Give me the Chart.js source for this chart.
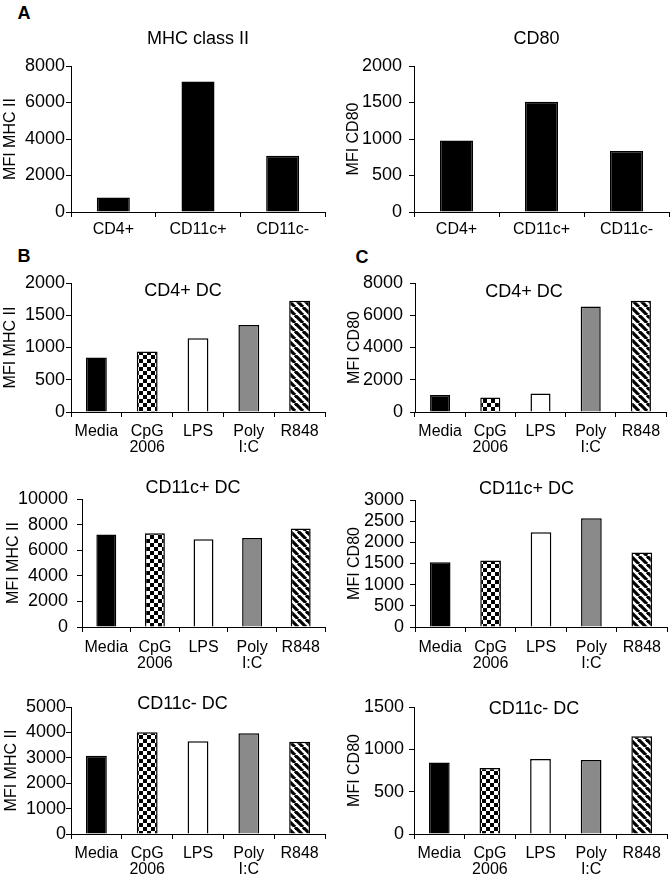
<!DOCTYPE html>
<html><head><meta charset="utf-8">
<script src="https://cdn.jsdelivr.net/npm/chart.js@4.4.1/dist/chart.umd.min.js"></script>
<style>
html,body{margin:0;padding:0;background:#fff;}
body{width:672px;height:883px;position:relative;overflow:hidden;font-family:"Liberation Sans",Arial,sans-serif;}
canvas{position:absolute;}
.letter{position:absolute;font-weight:bold;font-size:18px;line-height:1;transform:translate(-50%,-50%);}
</style></head><body>
<div class="letter" style="left:24px;top:13px">A</div>
<div class="letter" style="left:24px;top:256px">B</div>
<div class="letter" style="left:362px;top:257px">C</div>
<script>
// ---- data ----
const populations = ['CD4+', 'CD11c+', 'CD11c-'];
const stimuli = ['Media', ['CpG', '2006'], 'LPS', ['Poly', 'I:C'], 'R848'];

const mhcByPopulation = [800, 7150, 3080];
const cd80ByPopulation = [980, 1510, 836];

const mhcCD4DC = [845, 938, 1145, 1347, 1725];
const cd80CD4DC = [1050, 900, 1150, 6550, 6900];
const mhcCD11cPosDC = [7220, 7330, 6860, 6960, 7690];
const cd80CD11cPosDC = [1530, 1570, 2240, 2570, 1760];
const mhcCD11cNegDC = [3080, 4010, 3650, 3970, 3630];
const cd80CD11cNegDC = [845, 780, 885, 875, 1155];

const ticksMhcPop = [0, 2000, 4000, 6000, 8000];
const ticksCd80Pop = [0, 500, 1000, 1500, 2000];
const ticksMhcCD4 = [0, 500, 1000, 1500, 2000];
const ticksCd80CD4 = [0, 2000, 4000, 6000, 8000];
const ticksMhcCD11cPos = [0, 2000, 4000, 6000, 8000, 10000];
const ticksCd80CD11cPos = [0, 500, 1000, 1500, 2000, 2500, 3000];
const ticksMhcCD11cNeg = [0, 1000, 2000, 3000, 4000, 5000];
const ticksCd80CD11cNeg = [0, 500, 1000, 1500];

// ---- patterns ----
function checkerPattern() {
  const c = document.createElement('canvas'); c.width = 8; c.height = 8;
  const x = c.getContext('2d');
  x.fillStyle = '#fff'; x.fillRect(0, 0, 8, 8);
  x.fillStyle = '#000'; x.fillRect(0, 0, 4, 4); x.fillRect(4, 4, 4, 4);
  return x.createPattern(c, 'repeat');
}
function stripePattern() {
  const c = document.createElement('canvas'); c.width = 8; c.height = 8;
  const x = c.getContext('2d');
  x.fillStyle = '#fff'; x.fillRect(0, 0, 8, 8);
  x.strokeStyle = '#000'; x.lineWidth = 3.2;
  [-8, 0, 8].forEach(o => { x.beginPath(); x.moveTo(o, 0); x.lineTo(o + 8, 8); x.stroke(); });
  return x.createPattern(c, 'repeat');
}
const stimColors = ['#000000', checkerPattern(), '#ffffff', '#8a8a8a', stripePattern()];
const popColors = ['#000000', '#000000', '#000000'];

const FONT = '"Liberation Sans", Arial, sans-serif';

const titlePlugin = {
  id: 'panelTitle',
  afterDraw(chart, args, o) {
    const {ctx, chartArea: a} = chart;
    ctx.save();
    ctx.font = '18px ' + FONT;
    ctx.fillStyle = '#000';
    ctx.textAlign = 'center';
    ctx.textBaseline = 'middle';
    ctx.fillText(o.text, (a.left + a.right) / 2 + o.dx, a.top + o.dy);
    ctx.restore();
  }
};

const LY = 80, TY = 40, HX = 50, RP = 4;

function makeChart(rect, labels, values, colors, yTicks, yTitle, title, s) {
  const cv = document.createElement('canvas');
  const w = (rect.r - rect.l) + LY + RP;
  const h = TY + (rect.b - rect.t) + HX;
  cv.width = w; cv.height = h;
  cv.style.left = (rect.l - LY) + 'px';
  cv.style.top = (rect.t - TY) + 'px';
  cv.style.width = w + 'px'; cv.style.height = h + 'px';
  document.body.appendChild(cv);
  new Chart(cv, {
    type: 'bar',
    data: { labels: labels, datasets: [{
      data: values, backgroundColor: colors, borderColor: '#000', borderWidth: 1.5,
      barPercentage: s.bar, categoryPercentage: 1
    }]},
    plugins: [titlePlugin],
    options: {
      responsive: false, animation: false, devicePixelRatio: 1,
      layout: { padding: { left: 0, top: TY, right: RP, bottom: 0 } },
      plugins: { legend: { display: false }, tooltip: { enabled: false },
                 panelTitle: { text: title, dx: s.tdx, dy: s.tdy } },
      scales: {
        x: {
          type: 'category', offset: true,
          grid: { display: true, offset: true, drawOnChartArea: false, drawTicks: true, tickLength: 5, color: '#000', lineWidth: 1 },
          border: { display: true, color: '#000', width: 1 },
          ticks: { color: '#000', font: { family: FONT, size: 16, lineHeight: 1.04 }, padding: s.xpad, maxRotation: 0, autoSkip: false },
          afterFit(sc) { sc.height = HX; }
        },
        y: {
          min: yTicks[0], max: yTicks[yTicks.length - 1],
          grid: { display: true, drawOnChartArea: false, drawTicks: true, tickLength: 5, color: '#000', lineWidth: 1 },
          border: { display: true, color: '#000', width: 1 },
          ticks: { color: '#000', font: { family: FONT, size: 18 }, stepSize: yTicks[1] - yTicks[0], padding: s.ypad,
                   autoSkip: false, callback: v => String(v) },
          afterBuildTicks(sc) { sc.ticks = yTicks.map(v => ({ value: v })); },
          title: { display: true, text: yTitle, color: '#000', font: { family: FONT, size: 16, lineHeight: 1.2 }, padding: { top: s.ttp - 0.3, bottom: 0 } },
          afterFit(sc) { sc.width = LY; }
        }
      }
    }
  });
}

makeChart({l: 71, r: 325, t: 66, b: 212}, populations, mhcByPopulation, popColors, ticksMhcPop, 'MFI MHC II', 'MHC class II',
  {bar: 0.39, tdx: 0, tdy: -27, xpad: 4, ypad: 1, ttp: 10.5});
makeChart({l: 414, r: 669, t: 66, b: 212}, populations, cd80ByPopulation, popColors, ticksCd80Pop, 'MFI CD80', 'CD80',
  {bar: 0.39, tdx: -5, tdy: -27, xpad: 4, ypad: 7, ttp: 10.6});
makeChart({l: 71, r: 325, t: 283, b: 412}, stimuli, mhcCD4DC, stimColors, ticksMhcCD4, 'MFI MHC II', 'CD4+ DC',
  {bar: 0.41, tdx: -15, tdy: 8.5, xpad: 6, ypad: 1, ttp: 10.3});
makeChart({l: 415, r: 666, t: 283, b: 412}, stimuli, cd80CD4DC, stimColors, ticksCd80CD4, 'MFI CD80', 'CD4+ DC',
  {bar: 0.40, tdx: -16.5, tdy: 9, xpad: 6, ypad: 7, ttp: 10.3});
makeChart({l: 82, r: 325, t: 499, b: 627}, stimuli, mhcCD11cPosDC, stimColors, ticksMhcCD11cPos, 'MFI MHC II', 'CD11c+ DC',
  {bar: 0.41, tdx: -10.5, tdy: -10.5, xpad: 7, ypad: 9, ttp: 2.6});
makeChart({l: 415, r: 667, t: 500, b: 627}, stimuli, cd80CD11cPosDC, stimColors, ticksCd80CD11cPos, 'MFI CD80', 'CD11c+ DC',
  {bar: 0.41, tdx: -14.5, tdy: -11, xpad: 7, ypad: 6, ttp: 10.3});
makeChart({l: 71, r: 325, t: 707, b: 834}, stimuli, mhcCD11cNegDC, stimColors, ticksMhcCD11cNeg, 'MFI MHC II', 'CD11c- DC',
  {bar: 0.41, tdx: -15.5, tdy: -3, xpad: 6, ypad: 0, ttp: 11.2});
makeChart({l: 414, r: 667, t: 707, b: 834}, stimuli, cd80CD11cNegDC, stimColors, ticksCd80CD11cNeg, 'MFI CD80', 'CD11c- DC',
  {bar: 0.41, tdx: -6.5, tdy: 2, xpad: 6, ypad: 5, ttp: 11.6});
</script>
</body></html>
